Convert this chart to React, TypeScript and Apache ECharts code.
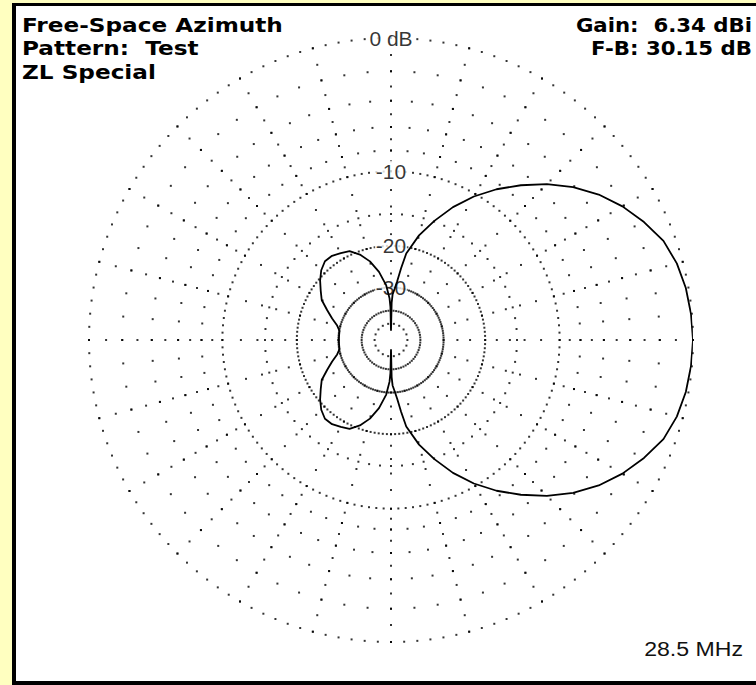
import React, { useEffect, useRef } from "react";
import * as echarts from "echarts";

// Azimuth pattern (degrees, 0 = right, counter-clockwise) and gain relative to max (dB)
const azimuthDeg = [
  0, 5, 10, 15, 20, 25, 30, 35, 40, 45, 50, 55, 60, 65, 70, 75, 80, 82, 84, 86, 88, 89, 90, 91, 92, 95,
  100, 105, 110, 115, 120, 125, 130, 135, 140, 145, 150, 155, 160, 165, 170, 175, 180,
  185, 190, 195, 200, 205, 210, 215, 220, 225, 230, 235, 240, 245, 250, 255, 260, 265, 268, 269, 270,
  271, 272, 274, 276, 278, 280, 285, 290, 295, 300, 305, 310, 315, 320, 325, 330, 335, 340, 345, 350,
  355, 360,
];
const gainDb = [
  0, -0.05, -0.15, -0.35, -0.7, -1.35, -2.1, -3.0, -4.1, -5.4, -6.9, -8.5, -10.3, -12.4, -14.9, -17.6,
  -21.2, -24.5, -28.0, -30.5, -32.5, -36, -60, -38, -34, -29.3,
  -25.3, -22.5, -20.6, -19.3, -18.9, -18.5, -18.5, -19.2, -20.3, -21.6, -22.8, -25.0, -27.0, -29.0,
  -30.1, -30.15, -30.15,
  -30.15, -30.1, -29.0, -27.0, -25.0, -22.8, -21.6, -20.3, -19.2, -18.5, -18.5, -18.9, -19.3, -20.6,
  -22.5, -25.3, -29.3, -34, -38, -60,
  -36, -32.5, -30.5, -28.0, -24.5, -21.2, -17.6, -14.9, -12.4, -10.3, -8.5, -6.9, -5.4, -4.1, -3.0,
  -2.1, -1.35, -0.7, -0.35, -0.15, -0.05, 0,
];

// Grid (ARRL log scale)
const majorRingDb = [0, -10, -20, -30];
const minorRingDb = [-2, -4, -6, -8, -15];
const innerRingDb = [-40, -50];
const radialDotDb = [0, -1, -2, -3, -4, -5, -6, -7, -8, -9, -10, -12, -14, -16, -18, -20, -23, -26, -30];
const radialStepDeg = 15;
const ringLabelDb = [0, -10, -20, -30];
const ringLabelText = ["0 dB", "-10", "-20", "-30"];

const titleLines = ["Free-Space Azimuth", "Pattern:  Test", "ZL Special"];
const infoLines = ["Gain:  6.34 dBi", "F-B: 30.15 dB"];
const freqLabel = "28.5 MHz";

const toR = (db: number) => Math.pow(0.89, -db / 2);

export default function App() {
  const ref = useRef<HTMLDivElement>(null);
  useEffect(() => {
    document.body.style.margin = "0";
    const chart = echarts.init(ref.current!, null, { renderer: "svg" });

    const ringDots: number[][] = [];
    majorRingDb.forEach((db) => {
      for (let a = 0; a < 360; a += 2.5) ringDots.push([toR(db), a]);
    });
    minorRingDb.forEach((db) => {
      for (let a = 0; a < 360; a += 5) ringDots.push([toR(db), a]);
    });
    innerRingDb.forEach((db, i) => {
      const step = i === 0 ? 5 : 20;
      for (let a = 0; a < 360; a += step) ringDots.push([toR(db), a]);
    });
    const radialDots: number[][] = [];
    for (let a = 0; a < 360; a += radialStepDeg) {
      radialDotDb.forEach((db) => radialDots.push([toR(db), a]));
    }

    const titleFont = 'bold 19px "DejaVu Sans"';
    const graphics: any[] = [
      { type: "rect", z: -10, shape: { x: 12, y: 3, width: 800, height: 682 }, style: { fill: "#000" } },
      { type: "rect", z: -9, shape: { x: 16, y: 6, width: 800, height: 675 }, style: { fill: "#fff" } },
    ];
    titleLines.forEach((t, i) => {
      graphics.push({
        type: "text", z: 10, x: 22, y: 25 + i * 23.5, scaleX: 1.22,
        style: { text: t, font: titleFont, fill: "#000", textAlign: "left", textVerticalAlign: "middle" },
      });
    });
    infoLines.forEach((t, i) => {
      graphics.push({
        type: "text", z: 10, x: 752, y: 25 + i * 23.5, scaleX: 1.12,
        style: { text: t, font: titleFont, fill: "#000", textAlign: "right", textVerticalAlign: "middle" },
      });
    });
    graphics.push({
      type: "text", z: 10, x: 743, y: 649, scaleX: 1.1,
      style: { text: freqLabel, font: '21px "Liberation Sans"', fill: "#111", textAlign: "right", textVerticalAlign: "middle" },
    });

    chart.setOption({
      animation: false,
      backgroundColor: "transparent",
      polar: { center: [391, 340], radius: 302 },
      angleAxis: {
        type: "value", min: 0, max: 360, startAngle: 0, clockwise: false,
        axisLine: { show: false }, axisTick: { show: false }, axisLabel: { show: false }, splitLine: { show: false },
      },
      radiusAxis: {
        type: "value", min: 0, max: 1,
        axisLine: { show: false }, axisTick: { show: false }, axisLabel: { show: false }, splitLine: { show: false },
      },
      graphic: graphics,
      series: [
        {
          type: "scatter", coordinateSystem: "polar", silent: true, z: 1,
          symbol: "rect", symbolSize: 2, itemStyle: { color: "#000" }, data: ringDots,
        },
        {
          type: "scatter", coordinateSystem: "polar", silent: true, z: 1,
          symbol: "rect", symbolSize: 2, itemStyle: { color: "#000" }, data: radialDots,
        },
        {
          type: "scatter", coordinateSystem: "polar", silent: true, z: 2,
          symbolSize: 0,
          label: {
            show: true, position: "inside", formatter: (p: any) => p.name,
            backgroundColor: "#fff", padding: [0, 1], color: "#000",
            fontFamily: "Liberation Sans", fontSize: 21,
          },
          data: ringLabelDb.map((db, i) => ({ name: ringLabelText[i], value: [toR(db), 90] })),
        },
        {
          type: "line", coordinateSystem: "polar", z: 3, showSymbol: false, symbol: "none",
          lineStyle: { color: "#000", width: 1.8 },
          data: azimuthDeg.map((a, i) => [toR(gainDb[i]), a]),
        },
      ],
    });
    return () => chart.dispose();
  }, []);
  return <div ref={ref} style={{ width: 756, height: 685, background: "#FFFFC0" }} />;
}
